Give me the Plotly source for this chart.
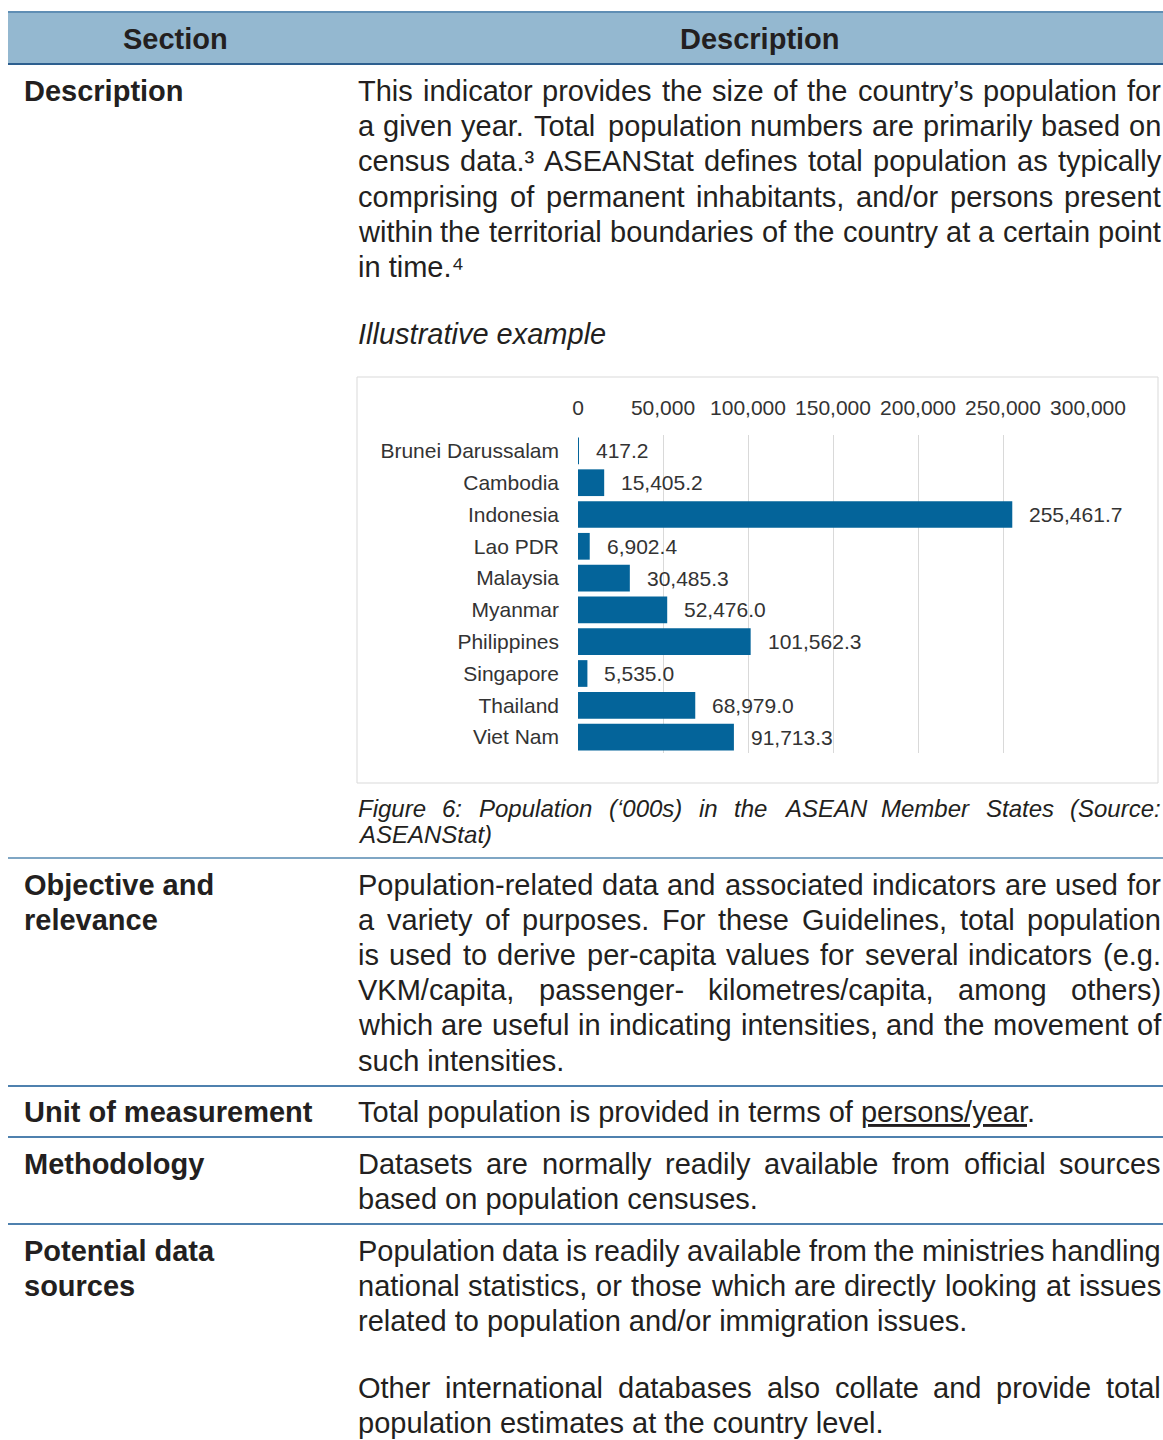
import plotly.graph_objects as go

W, H = 1163, 1440
FONT = "Liberation Sans, Arial, Helvetica, sans-serif"
TXT = "#231F20"
CHART_TXT = "#333333"

# ---------------- chart data ----------------
countries = ["Brunei Darussalam", "Cambodia", "Indonesia", "Lao PDR", "Malaysia",
             "Myanmar", "Philippines", "Singapore", "Thailand", "Viet Nam"]
population = [417.2, 15405.2, 255461.7, 6902.4, 30485.3,
              52476.0, 101562.3, 5535.0, 68979.0, 91713.3]
x_tick_values = [0, 50000, 100000, 150000, 200000, 250000, 300000]
x_tick_labels = ["0", "50,000", "100,000", "150,000", "200,000", "250,000", "300,000"]

# ---------------- table text ----------------
header_titles = ["Section", "Description"]
section_labels = [
    ["Description"],
    ["Objective and", "relevance"],
    ["Unit of measurement"],
    ["Methodology"],
    ["Potential data", "sources"],
]
desc_lines = [
    ("This indicator provides the size of the country’s population for", True),
    ("a given year. Total population numbers are primarily based on", True),
    ("census data.³ ASEANStat defines total population as typically", True),
    ("comprising of permanent inhabitants, and/or persons present", True),
    ("within the territorial boundaries of the country at a certain point", True),
    ("in time.⁴", False),
]
example_title = "Illustrative example"
caption_lines = [
    ("Figure 6: Population (‘000s) in the ASEAN Member States (Source:", True),
    ("ASEANStat)", False),
]
objective_lines = [
    ("Population-related data and associated indicators are used for", True),
    ("a variety of purposes. For these Guidelines, total population", True),
    ("is used to derive per-capita values for several indicators (e.g.", True),
    ("VKM/capita, passenger- kilometres/capita, among others)", True),
    ("which are useful in indicating intensities, and the movement of", True),
    ("such intensities.", False),
]
unit_lines = [
    ("Total population is provided in terms of <u>persons/year</u>.", False),
]
method_lines = [
    ("Datasets are normally readily available from official sources", True),
    ("based on population censuses.", False),
]
sources_lines = [
    ("Population data is readily available from the ministries handling", True),
    ("national statistics, or those which are directly looking at issues", True),
    ("related to population and/or immigration issues.", False),
    ("Other international databases also collate and provide total", True),
    ("population estimates at the country level.", False),
]

# ---------------- layout helpers ----------------
REG = {' ': 278, '!': 278, '"': 355, '#': 556, '$': 556, '%': 889, '&': 667, "'": 191,
       '(': 333, ')': 333, '*': 389, '+': 584, ',': 278, '-': 333, '.': 278, '/': 278,
       ':': 278, ';': 278, '?': 556, '’': 222, '‘': 222, '³': 333, '⁴': 333,
       'A': 667, 'B': 667, 'C': 722, 'D': 722, 'E': 667, 'F': 611, 'G': 778, 'H': 722,
       'I': 278, 'J': 500, 'K': 667, 'L': 556, 'M': 833, 'N': 722, 'O': 778, 'P': 667,
       'Q': 778, 'R': 722, 'S': 667, 'T': 611, 'U': 722, 'V': 667, 'W': 944, 'X': 667,
       'Y': 667, 'Z': 611,
       'a': 556, 'b': 556, 'c': 500, 'd': 556, 'e': 556, 'f': 278, 'g': 556, 'h': 556,
       'i': 222, 'j': 222, 'k': 500, 'l': 222, 'm': 833, 'n': 556, 'o': 556, 'p': 556,
       'q': 556, 'r': 333, 's': 500, 't': 278, 'u': 556, 'v': 500, 'w': 722, 'x': 500,
       'y': 500, 'z': 500}
for d in "0123456789":
    REG[d] = 556


def tw(s, size):
    return sum(REG.get(c, 556) for c in s) * size / 1000.0


def px(x):
    return x / W


def py(y):
    return 1 - y / H


annotations = []


def add_text(x, y, text, size, bold=False, italic=False, color=TXT, anchor="left"):
    t = text
    if bold:
        t = "<b>" + t + "</b>"
    if italic:
        t = "<i>" + t + "</i>"
    annotations.append(dict(x=px(x), y=py(y), xref="paper", yref="paper", text=t,
                            showarrow=False, xanchor=anchor, yanchor="middle",
                            borderpad=0, borderwidth=0,
                            font=dict(family=FONT, size=size, color=color)))


def add_line(x0, x1, y, line, size, justify, italic=False):
    if not justify:
        add_text(x0, y, line, size, italic=italic)
        return
    words = line.split(" ")
    ws = [tw(w, size) for w in words]
    gap = (x1 - x0 - sum(ws)) / (len(words) - 1)
    x = x0
    for w, wd in zip(words, ws):
        add_text(x, y, w, size, italic=italic)
        x += wd + gap


BODY = 29
LEFT_COL = 24
TX0, TX1 = 358, 1161

# header
add_text(175, 39, header_titles[0], BODY, bold=True, anchor="center")
add_text(760, 39, header_titles[1], BODY, bold=True, anchor="center")

# section labels
label_y = [[91], [885, 920], [1112], [1164], [1251, 1286]]
for lines, ys in zip(section_labels, label_y):
    for ln, yy in zip(lines, ys):
        add_text(LEFT_COL, yy, ln, BODY, bold=True)


def add_par(lines, ys, size=BODY, italic=False):
    for (ln, just), yy in zip(lines, ys):
        add_line(TX0, TX1, yy, ln, size, just, italic=italic)


add_par(desc_lines, [91, 126, 161, 197, 232, 267])
add_text(TX0, 334, example_title, BODY, italic=True)
add_par(caption_lines, [808, 834], size=24, italic=True)
add_par(objective_lines, [885, 920, 955, 990, 1025, 1061])
add_par(unit_lines, [1112])
add_par(method_lines, [1164, 1199])
add_par(sources_lines, [1251, 1286, 1321, 1388, 1423])

# data labels on the chart
for c, v in zip(countries, population):
    annotations.append(dict(x=v, y=c, xref="x", yref="y", text=f"{v:,.1f}",
                            showarrow=False, xanchor="left", yanchor="middle",
                            xshift=17, borderpad=0, borderwidth=0,
                            font=dict(family=FONT, size=21, color=CHART_TXT)))

# ---------------- shapes ----------------
shapes = [
    dict(type="rect", xref="paper", yref="paper", x0=px(8), x1=1, y0=py(64), y1=py(12),
         fillcolor="#94B8D0", line=dict(width=0), layer="below"),
    dict(type="line", xref="paper", yref="paper", x0=px(8), x1=1, y0=py(12), y1=py(12),
         line=dict(color="#5F8EB4", width=2)),
    dict(type="line", xref="paper", yref="paper", x0=px(8), x1=1, y0=py(64), y1=py(64),
         line=dict(color="#2D5F8F", width=2)),
    dict(type="rect", xref="paper", yref="paper", x0=px(357), x1=px(1158), y0=py(783), y1=py(377),
         fillcolor="rgba(0,0,0,0)", line=dict(color="#D9D9D9", width=1)),
]
for yy, col in [(858, "#7FA6C4"), (1086, "#4F81AE"), (1137, "#4F81AE"), (1224, "#4F81AE")]:
    shapes.append(dict(type="line", xref="paper", yref="paper", x0=px(8), x1=1,
                       y0=py(yy), y1=py(yy), line=dict(color=col, width=2)))

# ---------------- figure ----------------
fig = go.Figure()
fig.add_trace(go.Bar(
    x=population, y=countries, orientation="h",
    marker=dict(color="#04649A", line=dict(width=0)),
    hoverinfo="x+y",
))

fig.update_layout(
    width=W, height=H, autosize=False,
    margin=dict(l=0, r=0, t=0, b=0, pad=0),
    paper_bgcolor="white", plot_bgcolor="white",
    showlegend=False, bargap=0.16,
    font=dict(family=FONT, color=CHART_TXT, size=21),
    xaxis=dict(domain=[px(578), px(1088)], range=[0, 300000], side="top",
               tickvals=x_tick_values, ticktext=x_tick_labels,
               showgrid=True, gridcolor="#D9D9D9", gridwidth=1,
               zeroline=False, showline=False, ticks="", automargin=False,
               ticklabelstandoff=15,
               tickfont=dict(family=FONT, size=21, color=CHART_TXT)),
    yaxis=dict(domain=[py(753), py(435)], type="category",
               categoryorder="array", categoryarray=countries,
               autorange="reversed", showgrid=False, zeroline=False,
               showline=False, ticks="", ticklabelstandoff=18, automargin=False,
               tickfont=dict(family=FONT, size=21, color=CHART_TXT)),
    annotations=annotations,
    shapes=shapes,
)

post = ("document.body.style.margin='0';"
        "document.body.style.padding='0';"
        "document.body.style.overflow='hidden';"
        "document.documentElement.style.overflow='hidden';")

fig.write_html("out.html", post_script=post, config={"displayModeBar": False})
